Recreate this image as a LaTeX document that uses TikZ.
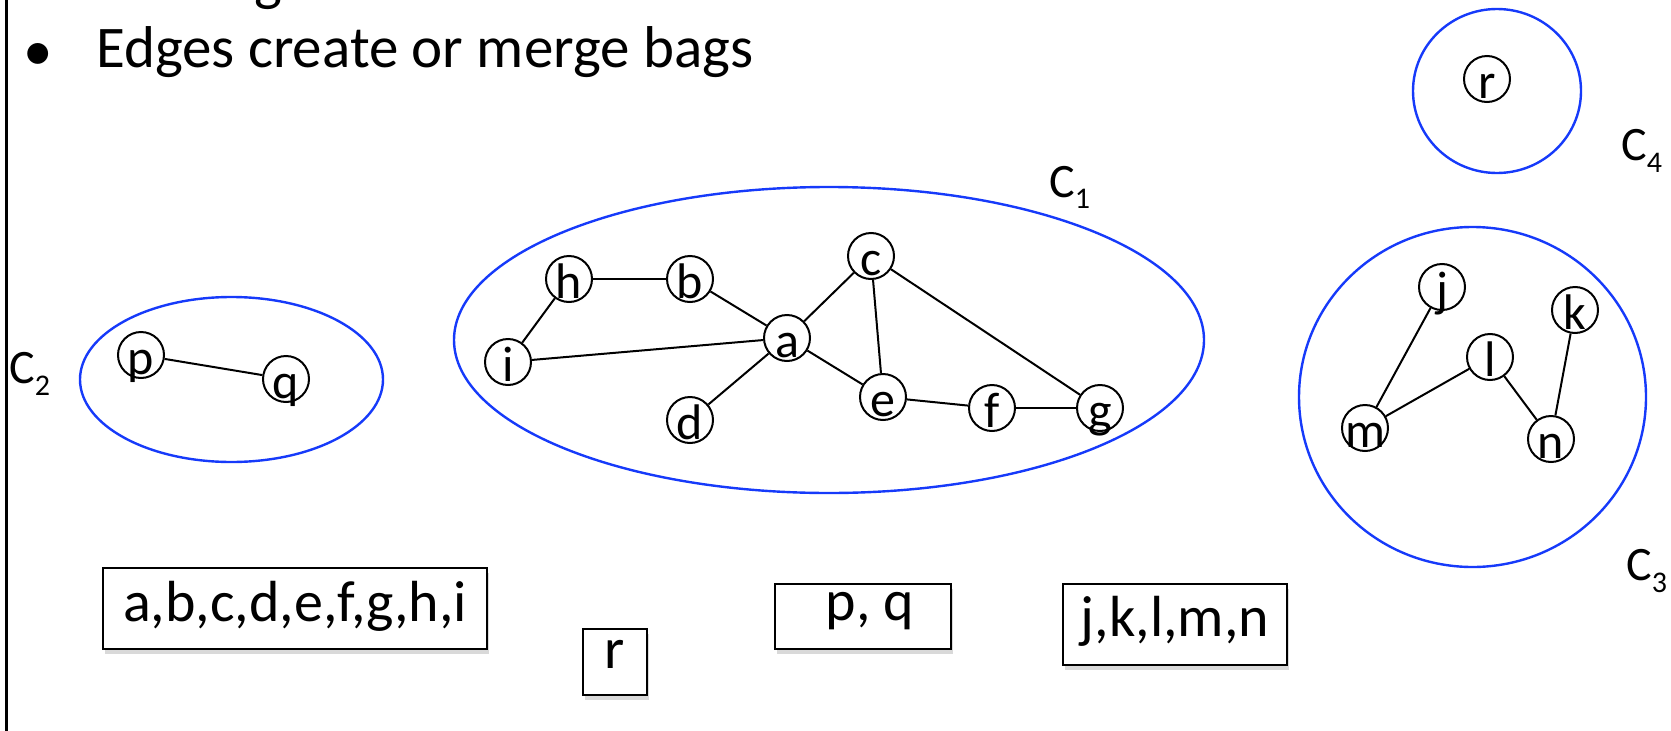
\documentclass[tikz,border=0pt]{standalone}
\usepackage{fontspec}
\setmainfont{Carlito}
\usetikzlibrary{shadows}
\definecolor{bagblue}{RGB}{22,58,250}
\newcommand\zw[1]{\makebox[0pt][c]{#1}}
\begin{document}
\begin{tikzpicture}[x=1pt,y=-1pt,
  gnode/.style={circle, draw, line width=2pt, minimum size=46pt, inner sep=0pt,
    text height=38pt, text depth=0pt, font=\fontsize{50}{50}\selectfont},
  gedge/.style={line width=2pt},
  comp/.style={draw=bagblue, line width=2.4pt},
  bag/.style={draw, line width=1.7pt, fill=white, inner sep=0pt,
    font=\fontsize{58}{58}\selectfont,
    drop shadow={shadow xshift=2pt, shadow yshift=-5pt, opacity=0.15, fill=black}},
  clabel/.style={inner sep=0pt, anchor=base west, font=\fontsize{48}{48}\selectfont},
  titletext/.style={inner sep=0pt, font=\fontsize{59}{59}\selectfont}]
\useasboundingbox (0,0) rectangle (1671,731);
\clip (0,0) rectangle (1671,731);

% frame line on the left
\coordinate (ltop) at (6.5,0);
\coordinate (lbot) at (6.5,731);
\draw[line width=2.5pt] (ltop) -- (lbot);

% title
\node[titletext, anchor=base] (gtop) at (268,-1) {g};
\node[titletext, anchor=base] (bullet) at (38,70) {•};
\node[titletext, anchor=base west] (title) at (96,67) {Edges create or merge bags};

% components
\draw[comp] (231.5,379.5) ellipse [x radius=151.5pt, y radius=82.5pt];
\draw[comp] (829,340) ellipse [x radius=375pt, y radius=153pt];
\draw[comp] (1472.5,397) ellipse [x radius=173.5pt, y radius=170pt];
\draw[comp] (1497,91) ellipse [x radius=84pt, y radius=82pt];

% component labels
\node[clabel] (C1) at (1049,197) {C\raisebox{-11pt}{\fontsize{30}{30}\selectfont 1}};
\node[clabel] (C2) at (9,383) {C\raisebox{-12pt}{\fontsize{30}{30}\selectfont 2}};
\node[clabel] (C3) at (1626,580) {C\raisebox{-12pt}{\fontsize{30}{30}\selectfont 3}};
\node[clabel] (C4) at (1621,160) {C\raisebox{-12pt}{\fontsize{30}{30}\selectfont 4}};

% graph nodes
\node[gnode] (p) at (141,355) {\zw{p}};
\node[gnode] (q) at (286,379) {\zw{q}};
\node[gnode] (h) at (569,279) {\zw{h}};
\node[gnode] (b) at (690,279) {\zw{b}};
\node[gnode] (c) at (871,256) {\zw{c}};
\node[gnode] (a) at (787,338) {\zw{a}};
\node[gnode] (i) at (508,362) {\zw{i}};
\node[gnode] (d) at (690,420) {\zw{d}};
\node[gnode] (e) at (883,397) {\zw{e}};
\node[gnode] (f) at (992,408) {\zw{f}};
\node[gnode] (g) at (1100,408) {\zw{g}};
\node[gnode] (r) at (1487,79) {\zw{r}};
\node[gnode] (j) at (1442,287) {\zw{j}};
\node[gnode] (k) at (1575,310) {\zw{k}};
\node[gnode] (l) at (1490,357) {\zw{l}};
\node[gnode] (m) at (1365,428) {\zw{m}};
\node[gnode] (n) at (1551,439) {\zw{n}};

% edges
\draw[gedge] (p) -- (q);
\draw[gedge] (h) -- (b);
\draw[gedge] (b) -- (a);
\draw[gedge] (a) -- (c);
\draw[gedge] (c) -- (e);
\draw[gedge] (c) -- (g);
\draw[gedge] (a) -- (e);
\draw[gedge] (e) -- (f);
\draw[gedge] (f) -- (g);
\draw[gedge] (a) -- (d);
\draw[gedge] (a) -- (i);
\draw[gedge] (i) -- (h);
\draw[gedge] (j) -- (m);
\draw[gedge] (m) -- (l);
\draw[gedge] (l) -- (n);
\draw[gedge] (k) -- (n);

% bags
\node[bag, minimum width=384pt, minimum height=81pt, text height=40pt, text depth=15pt] (bagA) at (295,608.5) {a,b,c,d,e,f,g,h,i};
\node[bag, minimum width=64pt, minimum height=66pt, text height=24pt, text depth=12pt] (bagR) at (615,662) {r};
\node[bag, minimum width=176pt, minimum height=65pt, text height=20pt, text depth=13pt] (bagPQ) at (863,616.5) {\hspace*{14pt}p, q};
\node[bag, minimum width=224pt, minimum height=81pt, text height=40pt, text depth=17pt] (bagJ) at (1175,624.5) {j,k,l,m,n};
\end{tikzpicture}
\end{document}
